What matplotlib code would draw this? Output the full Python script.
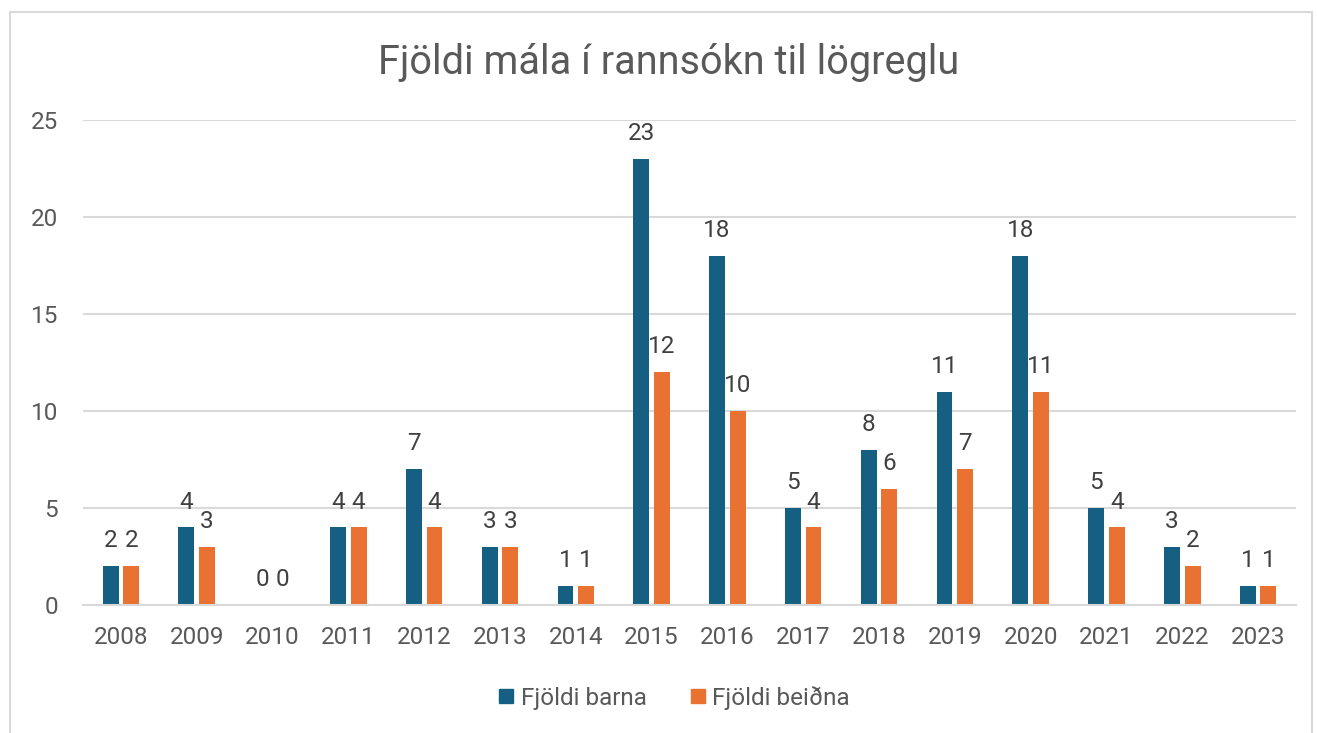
import matplotlib
matplotlib.use("Agg")
import matplotlib.pyplot as plt
import numpy as np
from matplotlib.patches import Rectangle
from matplotlib.lines import Line2D

years = ["2008", "2009", "2010", "2011", "2012", "2013", "2014", "2015",
         "2016", "2017", "2018", "2019", "2020", "2021", "2022", "2023"]
barna = [2, 4, 0, 4, 7, 3, 1, 23, 18, 5, 8, 11, 18, 5, 3, 1]
beidna = [2, 3, 0, 4, 4, 3, 1, 12, 10, 4, 6, 7, 11, 4, 2, 1]
series_names = ["Fjöldi barna", "Fjöldi beiðna"]
yticks = [0, 5, 10, 15, 20, 25]
title = "Fjöldi mála í rannsókn til lögreglu"

plt.rcParams['font.family'] = ['Roboto', 'DejaVu Sans']
c_blue = "#156082"
c_orange = "#E97132"
c_text = "#595959"
c_grid = "#D9D9D9"

W, H = 1317, 733
fig = plt.figure(figsize=(W / 100, H / 100), dpi=100)
fig.patch.set_facecolor("white")

# outer chart border
fig.add_artist(Rectangle((10 / W, -0.05), (1312 - 10) / W, 1.05 - 12 / H,
                         transform=fig.transFigure, fill=False,
                         edgecolor="#D9D9D9", linewidth=1.5))

ax = fig.add_axes([83 / W, 1 - 605 / H, (1296 - 83) / W, (605 - 120) / H])
x = np.arange(len(years))
w = 0.21
off = 0.136
b1 = ax.bar(x - off, barna, w, color=c_blue, zorder=3, label=series_names[0])
b2 = ax.bar(x + off, beidna, w, color=c_orange, zorder=3, label=series_names[1])

for bars, vals in ((b1, barna), (b2, beidna)):
    for r, v in zip(bars, vals):
        ax.annotate(str(v), (r.get_x() + r.get_width() / 2, v),
                    xytext=(0, 10), textcoords="offset points",
                    ha="center", va="bottom", fontsize=17.5, color="#404040")

ax.set_xlim(-0.5, len(years) - 0.5)
ax.set_ylim(0, 25)
ax.set_yticks(yticks)
ax.set_xticks(x)
ax.set_xticklabels(years)
ax.tick_params(axis="both", length=0, labelsize=17.5, labelcolor=c_text)
ax.tick_params(axis="y", pad=18)
ax.tick_params(axis="x", pad=15)
ax.grid(axis="y", color=c_grid, linewidth=1.5, zorder=0)
for s in ("top", "right", "left"):
    ax.spines[s].set_visible(False)
ax.spines["bottom"].set_color(c_grid)
ax.spines["bottom"].set_linewidth(1.5)
ax.spines["bottom"].set_zorder(4)

fig.text(669 / W, 1 - 62 / H, title, ha="center", va="center",
         fontsize=28.5, color=c_text)

handles = [Line2D([], [], marker="s", linestyle="", markersize=10, color=c_blue),
           Line2D([], [], marker="s", linestyle="", markersize=10, color=c_orange)]
fig.legend(handles, series_names, loc="center", bbox_to_anchor=(672 / W, 1 - 698 / H),
           ncol=2, frameon=False, fontsize=17.5, labelcolor=c_text,
           handletextpad=0.1, columnspacing=1.6, handlelength=1.0)

fig.savefig("out.png", dpi=100)
